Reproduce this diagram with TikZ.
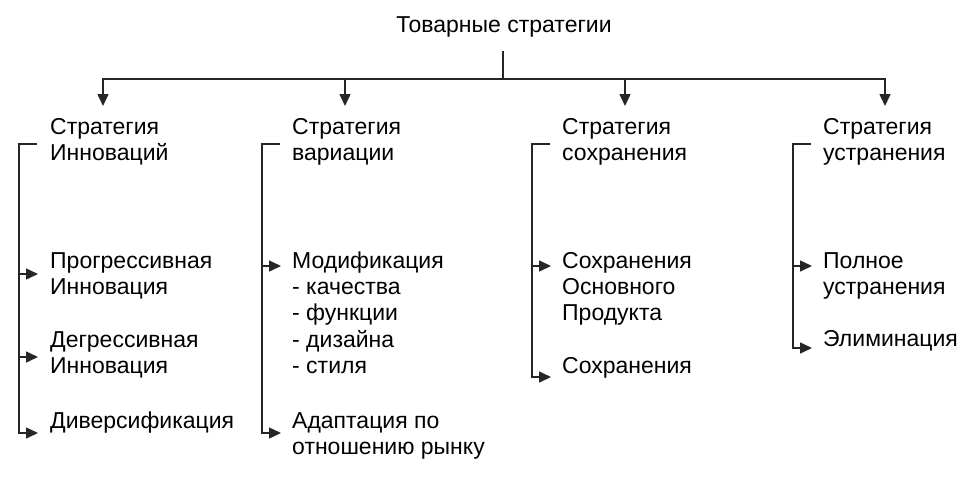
\documentclass[tikz,border=0pt]{standalone}
\usepackage{fontspec}
\setmainfont{Liberation Sans}
\usetikzlibrary{arrows.meta}
\newcommand\mystrut{\rule{0pt}{20pt}}
\begin{document}
\begin{tikzpicture}[x=1pt,y=-1pt,
  txt/.style={anchor=north west, inner sep=0pt, align=left, text=black, font=\fontsize{23}{26.3}\selectfont},
  ln/.style={line width=1.5pt, draw=black!85},
  arr/.style={ln, -{Triangle[length=12pt,width=11pt]}}]
\useasboundingbox (0,0) rectangle (966,477);
% title
\node[txt, anchor=base] (title) at (504,32) {Товарные стратегии};
% headers
\node[txt] (h1) at (50,114) {\mystrut Стратегия\\Инноваций};
\node[txt] (h2) at (292,114) {\mystrut Стратегия\\вариации};
\node[txt] (h3) at (562,114) {\mystrut Стратегия\\сохранения};
\node[txt] (h4) at (823,114) {\mystrut Стратегия\\устранения};
% items
\node[txt] (i11) at (50,248) {\mystrut Прогрессивная\\Инновация};
\node[txt] (i12) at (50,327) {\mystrut Дегрессивная\\Инновация};
\node[txt] (i13) at (50,408) {\mystrut Диверсификация};
\node[txt] (i21) at (292,248) {\mystrut Модификация\\- качества\\- функции\\- дизайна\\- стиля};
\node[txt] (i22) at (292,408) {\mystrut Адаптация по\\отношению рынку};
\node[txt] (i31) at (562,248) {\mystrut Сохранения\\Основного\\Продукта};
\node[txt] (i32) at (562,353) {\mystrut Сохранения};
\node[txt] (i41) at (823,248) {\mystrut Полное\\устранения};
\node[txt] (i42) at (823,326) {\mystrut Элиминация};
% coordinates
\coordinate (top) at (503,51);
\coordinate (hub) at (503,79);
\coordinate (d1) at (103,106);
\coordinate (d2) at (345,106);
\coordinate (d3) at (625,106);
\coordinate (d4) at (885,106);
% top connectors
\draw[ln] (top) -- (hub);
\draw[arr] (hub) -| (d1);
\draw[arr] (hub) -| (d2);
\draw[arr] (hub) -| (d3);
\draw[arr] (hub) -| (d4);
% column 1
\coordinate (k1) at (37,144); \coordinate (v1) at (19,144);
\coordinate (a11) at (38,274); \coordinate (a12) at (38,357); \coordinate (a13) at (38,433);
\draw[arr] (k1) -- (v1) |- (a13);
\draw[arr] (a11 -| v1) -- (a11);
\draw[arr] (a12 -| v1) -- (a12);
% column 2
\coordinate (k2) at (280,144); \coordinate (v2) at (262,144);
\coordinate (a21) at (281,266); \coordinate (a22) at (281,433);
\draw[arr] (k2) -- (v2) |- (a22);
\draw[arr] (a21 -| v2) -- (a21);
% column 3
\coordinate (k3) at (550,144); \coordinate (v3) at (532,144);
\coordinate (a31) at (551,266); \coordinate (a32) at (551,377);
\draw[arr] (k3) -- (v3) |- (a32);
\draw[arr] (a31 -| v3) -- (a31);
% column 4
\coordinate (k4) at (811,144); \coordinate (v4) at (793,144);
\coordinate (a41) at (812,266); \coordinate (a42) at (812,348);
\draw[arr] (k4) -- (v4) |- (a42);
\draw[arr] (a41 -| v4) -- (a41);
\end{tikzpicture}
\end{document}
